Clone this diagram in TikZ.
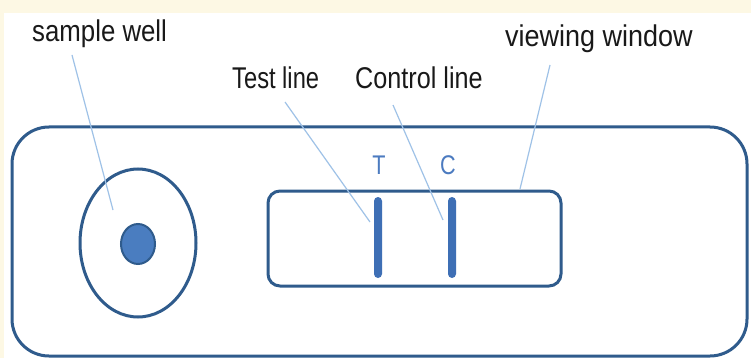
\documentclass[tikz,border=0pt]{standalone}
\usepackage{fontspec}
\setmainfont{Liberation Sans}
\usepackage{graphicx}
\usetikzlibrary{shapes.geometric}
\definecolor{cream}{HTML}{FDF8E4}
\definecolor{outline}{HTML}{2F5B8C}
\definecolor{dotfill}{HTML}{4A7DC0}
\definecolor{bandblue}{HTML}{3E6FB5}
\definecolor{leader}{HTML}{9FC2E7}
\definecolor{letterblue}{HTML}{4C7BC0}
\tikzset{
  lbl/.style={anchor=base west, inner sep=0pt, font=\fontsize{30}{32}\selectfont, text=black!90},
  letter/.style={anchor=base, inner sep=0pt, font=\fontsize{27}{29}\selectfont, text=letterblue},
  shapeline/.style={draw=outline, line width=3pt},
  band/.style={fill=bandblue, rounded corners=4pt, minimum width=8pt, minimum height=81pt, inner sep=0pt},
  leaderline/.style={draw=leader, line width=1.2pt}
}
\begin{document}
\begin{tikzpicture}[x=1pt,y=-1pt]
\useasboundingbox (0,0) rectangle (751,358);
\fill[cream] (0,0) rectangle (751,358);
\fill[white] (4,13) rectangle (751,358);

\node[shapeline, rounded corners=37pt, minimum width=735pt, minimum height=229pt, inner sep=0pt] (strip) at (379.5,241.5) {};
\node[shapeline, ellipse, minimum width=116pt, minimum height=148pt, inner sep=0pt] (well) at (138,243) {};
\node[shapeline, ellipse, fill=dotfill, line width=2pt, minimum width=34pt, minimum height=40pt, inner sep=0pt] (dot) at (138,244) {};
\node[shapeline, rounded corners=12pt, minimum width=293pt, minimum height=95pt, inner sep=0pt] (window) at (414.5,238.5) {};
\node[band] (tband) at (378,237.5) {};
\node[band] (cband) at (452,237.5) {};

\node[letter] (T) at (379,175) {\scalebox{0.8}[1]{T}};
\node[letter] (C) at (448,175) {\scalebox{0.8}[1]{C}};

\node[lbl] (swl) at (32,42) {\scalebox{0.86}[1]{sample well}};
\node[lbl] (tll) at (232,89) {\scalebox{0.79}[1]{Test line}};
\node[lbl] (cll) at (355,89) {\scalebox{0.84}[1]{Control line}};
\node[lbl] (vwl) at (505,47) {\scalebox{0.90}[1]{viewing window}};

\coordinate (swA) at (72,55);
\coordinate (swB) at (113,210);
\coordinate (tlA) at (285,102);
\coordinate (tlB) at (370,222);
\coordinate (clA) at (393,105);
\coordinate (clB) at (443,220);
\coordinate (vwA) at (550,65);
\coordinate (vwB) at (520,189);
\draw[leaderline] (swA) -- (swB);
\draw[leaderline] (tlA) -- (tlB);
\draw[leaderline] (clA) -- (clB);
\draw[leaderline] (vwA) -- (vwB);
\end{tikzpicture}
\end{document}
